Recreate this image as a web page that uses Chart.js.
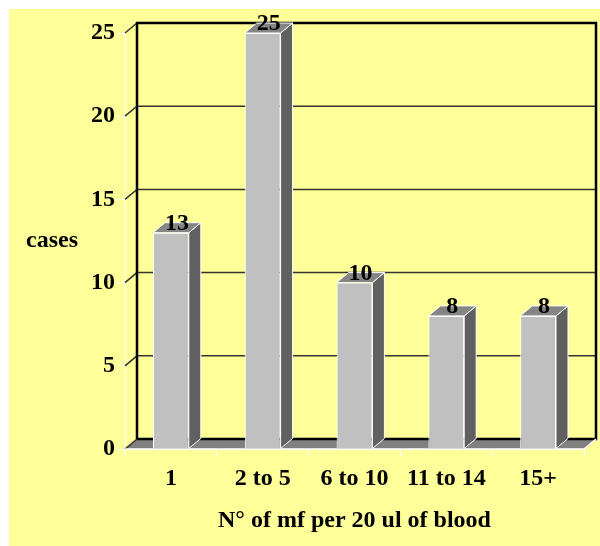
<!DOCTYPE html>
<html>
<head>
<meta charset="utf-8">
<script src="https://cdn.jsdelivr.net/npm/chart.js@4.4.0/dist/chart.umd.min.js"></script>
<style>
  html, body { margin: 0; padding: 0; background: #fff; }
  canvas { display: block; }
</style>
</head>
<body>
<canvas id="myChart" width="600" height="546"></canvas>
<script>
// data
var categories = ['1', '2 to 5', '6 to 10', '11 to 14', '15+'];
var cases = [13, 25, 10, 8, 8];
var yTicks = [0, 5, 10, 15, 20, 25];

var DX = 12, DY = 10;
var FAMILY = '"Liberation Serif", "Times New Roman", serif';
var FONT = 'bold 24px ' + FAMILY;

var backdrop = {
    id: 'backdrop',
    beforeDraw: function(chart) {
        var ctx = chart.ctx;
        ctx.save();
        ctx.fillStyle = '#fff';
        ctx.fillRect(0, 0, chart.width, chart.height);
        ctx.fillStyle = '#FFFF99';
        ctx.fillRect(9, 9, chart.width - 9, chart.height - 9);
        ctx.restore();
    }
};

var walls = {
    id: 'walls',
    beforeDatasetsDraw: function(chart) {
        var ctx = chart.ctx, a = chart.chartArea, y = chart.scales.y;
        var L = a.left, R = a.right, T = a.top, B = a.bottom;
        ctx.save();
        // floor
        ctx.fillStyle = '#808080';
        ctx.beginPath();
        ctx.moveTo(L, B);
        ctx.lineTo(L + DX, B - DY);
        ctx.lineTo(R + DX, B - DY);
        ctx.lineTo(R, B);
        ctx.closePath();
        ctx.fill();
        // gridlines on the back wall
        yTicks.forEach(function(v) {
            var py = y.getPixelForValue(v);
            ctx.strokeStyle = '#333';
            ctx.lineWidth = 1.5;
            ctx.beginPath();
            ctx.moveTo(L, py);
            ctx.lineTo(L + DX, py - DY);
            if (v > 0 && v < 25) ctx.lineTo(R + DX, py - DY);
            ctx.stroke();
        });
        // back wall frame
        ctx.strokeStyle = '#000';
        ctx.lineWidth = 2.5;
        ctx.beginPath();
        ctx.moveTo(L + DX, B - DY);
        ctx.lineTo(L + DX, T - DY);
        ctx.lineTo(R + DX, T - DY);
        ctx.lineTo(R + DX, B - DY);
        ctx.lineTo(L + DX, B - DY);
        ctx.stroke();
        // front edges
        ctx.strokeStyle = '#fff';
        ctx.lineWidth = 1.5;
        ctx.beginPath();
        ctx.moveTo(L, B);
        ctx.lineTo(R, B);
        ctx.lineTo(R + DX, B - DY);
        ctx.stroke();
        ctx.restore();
    },
    afterDatasetsDraw: function(chart) {
        var ctx = chart.ctx;
        var meta = chart.getDatasetMeta(0);
        ctx.save();
        ctx.strokeStyle = '#fff';
        ctx.lineWidth = 1;
        meta.data.forEach(function(bar, i) {
            var p = bar.getProps(['x', 'y', 'base', 'width'], true);
            var x1 = p.x - p.width / 2, x2 = p.x + p.width / 2;
            // side
            ctx.fillStyle = '#606060';
            ctx.beginPath();
            ctx.moveTo(x2, p.y);
            ctx.lineTo(x2 + DX, p.y - DY);
            ctx.lineTo(x2 + DX, p.base - DY);
            ctx.lineTo(x2, p.base);
            ctx.closePath();
            ctx.fill();
            ctx.stroke();
            // top
            ctx.fillStyle = '#858585';
            ctx.beginPath();
            ctx.moveTo(x1, p.y);
            ctx.lineTo(x1 + DX, p.y - DY);
            ctx.lineTo(x2 + DX, p.y - DY);
            ctx.lineTo(x2, p.y);
            ctx.closePath();
            ctx.fill();
            ctx.stroke();
            // value label
            ctx.fillStyle = '#000';
            ctx.font = FONT;
            ctx.textAlign = 'center';
            ctx.textBaseline = 'alphabetic';
            ctx.fillText(String(cases[i]), p.x + DX / 2, p.y - 3);
        });
        ctx.restore();
    },
    afterDraw: function(chart) {
        var ctx = chart.ctx;
        ctx.save();
        ctx.fillStyle = '#000';
        ctx.font = FONT;
        ctx.textAlign = 'left';
        ctx.textBaseline = 'alphabetic';
        ctx.fillText('cases', 26, 247);
        ctx.restore();
    }
};

var ctx = document.getElementById('myChart').getContext('2d');
var myChart = new Chart(ctx, {
    type: 'bar',
    data: {
        labels: categories,
        datasets: [{
            label: 'cases',
            data: cases,
            backgroundColor: '#C0C0C0',
            borderColor: '#fff',
            borderWidth: 1,
            categoryPercentage: 1,
            barPercentage: 0.39
        }]
    },
    options: {
        responsive: false,
        animation: false,
        layout: { padding: { top: 33, right: 16, left: 0, bottom: 0 } },
        plugins: {
            legend: { display: false },
            tooltip: { enabled: false }
        },
        scales: {
            x: {
                grid: { drawOnChartArea: false, tickLength: 7, color: '#fff' },
                border: { color: '#fff' },
                ticks: { color: '#000', padding: 8, font: { family: FAMILY, size: 24, weight: 'bold' } },
                title: {
                    display: true,
                    text: 'N° of mf per 20 ul of blood',
                    color: '#000',
                    padding: 11,
                    font: { family: FAMILY, size: 24, weight: 'bold' }
                },
                afterFit: function(s) { s.height = 97; }
            },
            y: {
                min: 0,
                max: 25,
                grid: { drawOnChartArea: false, tickLength: 7, color: '#fff' },
                border: { color: '#fff' },
                ticks: { stepSize: 5, color: '#000', padding: 3, font: { family: FAMILY, size: 24, weight: 'bold' } },
                afterFit: function(s) { s.width = 125; }
            }
        }
    },
    plugins: [backdrop, walls]
});
</script>
</body>
</html>
